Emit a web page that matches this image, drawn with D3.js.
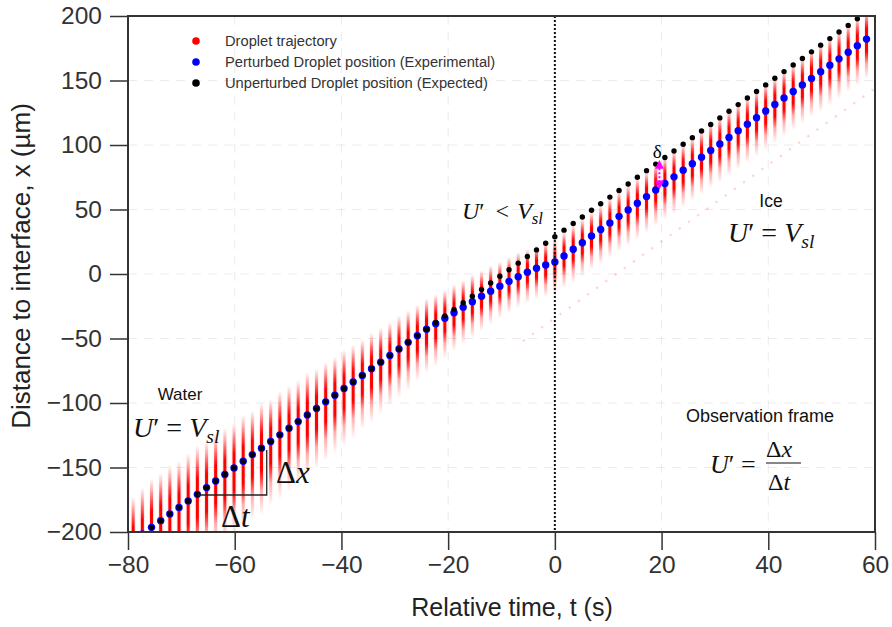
<!DOCTYPE html>
<html lang="en">
<head>
    <meta charset="utf-8">
    <script src="https://d3js.org/d3.v7.min.js"></script>
    <style>
        body { margin: 0; background: #fff; }
        svg { display: block; }
        text { font-family: "Liberation Sans", Arial, sans-serif; }
        .math { font-family: "Liberation Serif", "DejaVu Serif", serif; }
    </style>
</head>
<body>
    <svg id="chart"></svg>

    <script type="text/javascript" charset="utf-8">
        // frame times (s), one per recorded frame
        const frameTimes = [
            -79.03, -77.31, -75.59, -73.87, -72.16, -70.44, -68.72, -67.00, -65.28, -63.57,
            -61.85, -60.13, -58.41, -56.69, -54.98, -53.26, -51.54, -49.82, -48.10, -46.39,
            -44.67, -42.95, -41.23, -39.51, -37.80, -36.08, -34.36, -32.64, -30.92, -29.21,
            -27.49, -25.77, -24.05, -22.33, -20.62, -18.90, -17.18, -15.46, -13.74, -12.03,
            -10.31, -8.59, -6.87, -5.15, -3.44, -1.72, 0.00, 1.72, 3.44, 5.15,
            6.87, 8.59, 10.31, 12.03, 13.74, 15.46, 17.18, 18.90, 20.62, 22.33,
            24.05, 25.77, 27.49, 29.21, 30.92, 32.64, 34.36, 36.08, 37.80, 39.51,
            41.23, 42.95, 44.67, 46.39, 48.10, 49.82, 51.54, 53.26, 54.98, 56.69, 58.41
        ];
        // unperturbed droplet position (expected), um
        const expectedPos = [
            -206.6, -201.5, -196.4, -191.2, -186.1, -181.0, -175.9, -170.8, -165.6, -160.5,
            -155.4, -150.3, -145.2, -140.0, -135.0, -129.8, -124.7, -119.6, -114.4, -109.3,
            -104.2, -99.1, -94.0, -88.8, -83.7, -78.6, -73.5, -68.4, -63.2, -58.1,
            -53.0, -47.9, -42.8, -37.6, -32.5, -27.4, -22.3, -17.2, -12.0, -7.0,
            -1.8, 3.3, 8.4, 13.6, 18.7, 23.8, 28.9, 34.0, 39.2, 44.2,
            49.4, 54.5, 59.6, 64.7, 69.8, 75.0, 80.1, 85.2, 90.3, 95.4,
            100.6, 105.7, 110.8, 115.9, 121.0, 126.2, 131.3, 136.4, 141.5, 146.6,
            151.8, 156.9, 162.0, 167.1, 172.2, 177.4, 182.5, 187.6, 192.7, 197.8, 203.0
        ];
        // perturbed droplet position (experimental), um
        const measuredPos = [
            -206.6, -201.5, -196.4, -191.2, -186.1, -181.0, -175.9, -170.8, -165.6, -160.5,
            -155.4, -150.3, -145.2, -140.0, -135.0, -129.8, -124.7, -119.6, -114.4, -109.3,
            -104.2, -99.1, -94.0, -88.8, -83.7, -78.6, -73.5, -68.4, -63.2, -58.1,
            -53.0, -47.9, -42.8, -38.6, -34.3, -30.0, -25.7, -21.5, -17.2, -13.3,
            -9.4, -5.7, -2.1, 1.3, 4.4, 7.0, 9.3, 14.0, 19.2, 24.2,
            29.4, 34.5, 39.6, 44.7, 49.7, 54.9, 60.0, 65.1, 70.2, 75.3,
            80.4, 85.5, 90.6, 95.7, 100.8, 105.9, 111.0, 116.1, 121.2, 126.3,
            131.4, 136.5, 141.5, 146.6, 151.6, 156.8, 161.8, 166.8, 171.9, 177.0, 182.1
        ];
        // trajectory spread above / below the measured position, um
        const spreadUp = [
            34, 36, 38, 37, 38, 36, 37, 38, 36, 37, 36,
            35, 36, 34, 35, 33, 34, 33, 32, 33, 31,
            31, 30, 30, 29, 28, 28, 27, 26, 26, 25,
            24, 24, 23, 22, 22, 21, 21, 20, 20, 19,
            19, 19, 18, 18, 18, 18, 19, 19, 19, 19,
            19, 20, 20, 20, 20, 20, 21, 21, 21, 21,
            21, 21, 22, 22, 22, 22, 22, 22, 22, 22,
            22, 22, 22, 23, 23, 23, 23, 23, 23, 23
        ];
        const spreadDown = [
            52, 54, 55, 54, 56, 55, 54, 55, 54, 53, 54,
            52, 53, 51, 52, 50, 50, 49, 48, 48, 47,
            46, 45, 45, 44, 42, 42, 40, 39, 38, 37,
            35, 34, 33, 31, 30, 29, 28, 27, 26, 25,
            25, 24, 24, 24, 25, 25, 25, 26, 26, 26,
            27, 27, 27, 28, 28, 28, 28, 28, 29, 29,
            29, 29, 29, 30, 30, 30, 30, 30, 30, 30,
            30, 30, 30, 30, 31, 31, 31, 31, 31, 31
        ];
        // faint secondary track (start, end)
        const ghostTimes = [-6, 60];
        const ghostPos = [-52, 144];

        const xTicks = [-80, -60, -40, -20, 0, 20, 40, 60];
        const yTicks = [-200, -150, -100, -50, 0, 50, 100, 150, 200];
        const legendLabels = [
            "Droplet trajectory",
            "Perturbed Droplet position (Experimental)",
            "Unperturbed Droplet position (Expected)"
        ];
        const legendColors = ["#ff0000", "#0000ff", "#000000"];

        const margin = { top: 16, right: 17, bottom: 95, left: 128 };
        const width = 892 - margin.left - margin.right;
        const height = 627 - margin.top - margin.bottom;

        const root = d3.select("#chart")
            .attr("width", 892)
            .attr("height", 627);

        const defs = root.append("defs");
        defs.append("clipPath").attr("id", "plotClip")
            .append("rect").attr("width", width).attr("height", height);

        const grad = defs.append("linearGradient").attr("id", "streak")
            .attr("x1", 0).attr("y1", 0).attr("x2", 0).attr("y2", 1);
        [[0, 0], [0.1, 0.3], [0.28, 1], [0.6, 1], [0.78, 0.3], [1, 0]].forEach(s => {
            grad.append("stop").attr("offset", s[0])
                .attr("stop-color", "#ff0000").attr("stop-opacity", s[1]);
        });

        defs.append("marker").attr("id", "arrowM")
            .attr("viewBox", "0 0 10 10").attr("refX", 5).attr("refY", 5)
            .attr("markerWidth", 4.5).attr("markerHeight", 4.5)
            .attr("orient", "auto-start-reverse")
            .append("path").attr("d", "M0,0L10,5L0,10z").attr("fill", "#ff00ff");

        const svg = root.append("g")
            .attr("transform", `translate(${margin.left},${margin.top})`);

        const x = d3.scaleLinear().domain([-80, 60]).range([0, width]);
        const y = d3.scaleLinear().domain([-200, 200]).range([height, 0]);

        // grid
        svg.append("g").selectAll("line").data(xTicks).enter().append("line")
            .attr("x1", d => x(d)).attr("x2", d => x(d))
            .attr("y1", 0).attr("y2", height)
            .attr("stroke", "#ebebeb").attr("stroke-dasharray", "9,7");
        svg.append("g").selectAll("line").data(yTicks).enter().append("line")
            .attr("y1", d => y(d)).attr("y2", d => y(d))
            .attr("x1", 0).attr("x2", width)
            .attr("stroke", "#ebebeb").attr("stroke-dasharray", "9,7");

        const plot = svg.append("g").attr("clip-path", "url(#plotClip)");

        const frames = frameTimes.map((t, i) => ({
            t: t, exp: expectedPos[i], meas: measuredPos[i],
            up: spreadUp[i], down: spreadDown[i]
        }));

        // faint secondary track
        plot.append("line")
            .attr("x1", x(ghostTimes[0])).attr("y1", y(ghostPos[0]))
            .attr("x2", x(ghostTimes[1])).attr("y2", y(ghostPos[1]))
            .attr("stroke", "#ff0000").attr("stroke-opacity", 0.18)
            .attr("stroke-width", 2.2).attr("stroke-dasharray", "2.2,9.1");

        // trajectory streaks
        plot.selectAll(".halo").data(frames).enter().append("rect")
            .attr("x", d => x(d.t) - 2.6).attr("width", 5.2)
            .attr("y", d => y(d.meas + d.up))
            .attr("height", d => y(d.meas - d.down) - y(d.meas + d.up))
            .attr("fill", "url(#streak)").attr("opacity", 0.1);
        plot.selectAll(".streak").data(frames).enter().append("rect")
            .attr("x", d => x(d.t) - 1.5).attr("width", 3)
            .attr("y", d => y(d.meas + d.up))
            .attr("height", d => y(d.meas - d.down) - y(d.meas + d.up))
            .attr("fill", "url(#streak)");

        // measured (blue) then expected (black)
        plot.selectAll(".meas").data(frames).enter().append("circle")
            .attr("cx", d => x(d.t)).attr("cy", d => y(d.meas))
            .attr("r", 3.7).attr("fill", "#0000ff");
        plot.selectAll(".exp").data(frames).enter().append("circle")
            .attr("cx", d => x(d.t)).attr("cy", d => y(d.exp))
            .attr("r", 2.7).attr("fill", "#000");

        // interface line at t = 0
        svg.append("line")
            .attr("x1", x(0)).attr("x2", x(0)).attr("y1", 0).attr("y2", height)
            .attr("stroke", "#111").attr("stroke-width", 2).attr("stroke-dasharray", "2,2");

        // delta arrow
        svg.append("line")
            .attr("x1", x(19.6)).attr("x2", x(19.6))
            .attr("y1", y(85)).attr("y2", y(69))
            .attr("stroke", "#ff00ff").attr("stroke-width", 2)
            .attr("stroke-dasharray", "2,2")
            .attr("marker-start", "url(#arrowM)").attr("marker-end", "url(#arrowM)");
        svg.append("text").attr("class", "math")
            .attr("x", x(19.2)).attr("y", y(90))
            .attr("font-size", 19).attr("text-anchor", "middle").text("δ");

        // delta x / delta t construction
        svg.append("path")
            .attr("d", `M${x(-66.9)},${y(-171.3)}H${x(-54)}V${y(-136.4)}`)
            .attr("fill", "none").attr("stroke", "#222").attr("stroke-width", 1.3);

        function mathText(px, py, size, parts) {
            const t = svg.append("text").attr("class", "math")
                .attr("x", px).attr("y", py).attr("font-size", size).attr("fill", "#111");
            parts.forEach(p => {
                const s = t.append("tspan").text(p[0]);
                if (p[1] === "i") s.attr("font-style", "italic");
                if (p[1] === "sub") s.attr("font-style", "italic").attr("font-size", size * 0.7).attr("dy", size * 0.22);
                if (p[2]) s.attr("dx", p[2]);
            });
            return t;
        }
        const uEq = [["U", "i"], ["′", ""], [" = ", ""], ["V", "i"], ["sl", "sub"]];
        mathText(5, 421, 28, uEq);
        mathText(600, 226, 28, uEq);
        mathText(334, 203, 24, [["U", "i"], ["′", ""], ["<", "", 11], ["V", "i", 8], ["sl", "sub"]]);
        mathText(148, 467, 31, [["Δ", ""], ["x", "i"]]);
        mathText(93, 511, 31, [["Δ", ""], ["t", "i"]]);

        // observation frame formula
        mathText(582, 457, 26, [["U", "i"], ["′", ""], [" =", ""]]);
        mathText(638, 441, 24, [["Δ", ""], ["x", "i"]]);
        svg.append("line").attr("x1", 638).attr("x2", 673).attr("y1", 447).attr("y2", 447)
            .attr("stroke", "#111").attr("stroke-width", 1.2);
        mathText(640, 474, 24, [["Δ", ""], ["t", "i"]]);

        const labels = [["Water", 52, 384, 17], ["Ice", 643, 191, 17.5], ["Observation frame", 632, 406, 18]];
        labels.forEach(l => {
            svg.append("text").attr("x", l[1]).attr("y", l[2])
                .attr("font-size", l[3]).attr("text-anchor", "middle").attr("fill", "#111").text(l[0]);
        });

        // legend
        const legend = svg.append("g");
        legendLabels.forEach((lab, i) => {
            legend.append("circle").attr("cx", 68).attr("cy", 25 + i * 21)
                .attr("r", 3.8).attr("fill", legendColors[i]);
            legend.append("text").attr("x", 97).attr("y", 30 + i * 21)
                .attr("font-size", 14.7).attr("fill", "#333").text(lab);
        });

        // axes
        const xAxis = svg.append("g")
            .attr("transform", `translate(0,${height})`)
            .call(d3.axisBottom(x).tickValues(xTicks).tickSizeInner(18).tickSizeOuter(0).tickPadding(6));
        const yAxis = svg.append("g")
            .call(d3.axisLeft(y).tickValues(yTicks).tickSizeInner(18).tickSizeOuter(0).tickPadding(8));
        [xAxis, yAxis].forEach(a => {
            a.select(".domain").remove();
            a.selectAll(".tick line").attr("stroke", "#333").attr("stroke-width", 1.5);
            a.selectAll(".tick text").attr("font-size", 24.5).attr("fill", "#333")
                .attr("font-family", "Liberation Sans, Arial, sans-serif");
        });

        // frame
        svg.append("rect").attr("width", width).attr("height", height)
            .attr("fill", "none").attr("stroke", "#333").attr("stroke-width", 2);

        root.append("text")
            .attr("x", 512).attr("y", 616).attr("text-anchor", "middle")
            .attr("font-size", 25).attr("fill", "#222").text("Relative time, t (s)");
        root.append("text")
            .attr("transform", "translate(30,266) rotate(-90)").attr("text-anchor", "middle")
            .attr("font-size", 26).attr("fill", "#222").text("Distance to interface,  x (µm)");
    </script>
</body>
</html>
